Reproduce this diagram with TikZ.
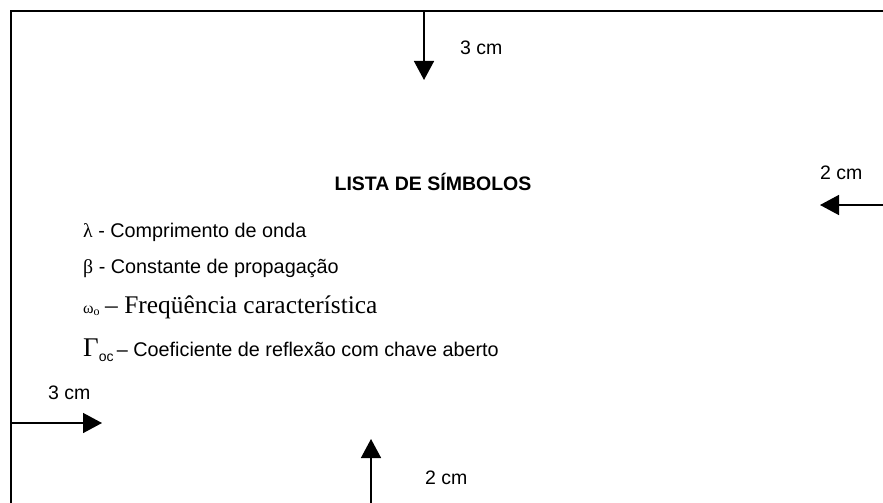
\documentclass[tikz,border=0pt]{standalone}
\usepackage{fontspec}
\setmainfont{Liberation Sans}
\newfontfamily\gregas{Liberation Serif}
\usepackage{tikz}
\usetikzlibrary{arrows.meta}
\tikzset{
	>={Triangle[length=19pt,width=20pt]},
}
\tikzstyle{moldura}=[line width=1.6pt]
\tikzstyle{margem}=[->,line width=1.5pt]
\tikzstyle{cota}=[anchor=base west,inner sep=0pt,font=\fontsize{19.5}{23}\selectfont]
\tikzstyle{simbolo}=[anchor=base west,inner sep=0pt,font=\fontsize{19.8}{23}\selectfont]
\begin{document}
\begin{tikzpicture}[x=1pt,y=-1pt]
      \useasboundingbox (0,0) rectangle (883,503);
      \coordinate (fundo) at (11,503);
      \coordinate (canto) at (11,11);
      \coordinate (topo) at (883,11);
      \draw[moldura] (fundo)--(canto)--(topo);
      \coordinate (s0) at (424,11);
      \coordinate (s1) at (424,80);
      \coordinate (d0) at (883,205);
      \coordinate (d1) at (820,205);
      \coordinate (e0) at (11,423);
      \coordinate (e1) at (102,423);
      \coordinate (i0) at (371,503);
      \coordinate (i1) at (371,439);
      \draw[margem] (s0)--(s1);
      \draw[margem] (d0)--(d1);
      \draw[margem] (e0)--(e1);
      \draw[margem] (i0)--(i1);
      \node[cota] (csup) at (460,55) {3 cm};
      \node[cota] (cdir) at (820,179) {2 cm};
      \node[cota] (cesq) at (48,399) {3 cm};
      \node[cota] (cinf) at (425,484) {2 cm};
      \node[anchor=base,inner sep=0pt,font=\bfseries\fontsize{19.5}{23}\selectfont] (tit) at (433,190) {LISTA DE SÍMBOLOS};
      \node[simbolo] (lam) at (83,237) {{\gregas λ} - Comprimento de onda};
      \node[simbolo] (bet) at (83,273) {{\gregas β} - Constante de propagação};
      \node[simbolo] (omg) at (83,313) {{\gregas\fontsize{16}{18}\selectfont ω\raisebox{-2pt}{\fontsize{12}{14}\selectfont o}} {\gregas\fontsize{25.4}{28}\selectfont – Freqüência característica}};
      \node[simbolo] (gam) at (83,356) {{\gregas\fontsize{27}{30}\selectfont Γ}\raisebox{-5pt}{\fontsize{14}{16}\selectfont oc}\,– Coeficiente de reflexão com chave aberto};
    \end{tikzpicture}
\end{document}
